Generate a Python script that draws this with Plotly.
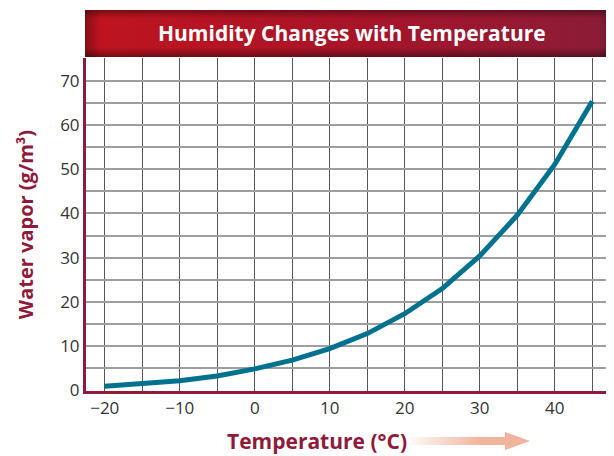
import base64
import plotly.graph_objects as go

# Data
temperature_c = [-20, -15, -10, -5, 0, 5, 10, 15, 20, 25, 30, 35, 40, 45]
water_vapor = [0.9, 1.4, 2.1, 3.2, 4.8, 6.8, 9.4, 12.8, 17.3, 23.0, 30.4, 39.6, 51.1, 65.4]

x_tickvals = [-20, -15, -10, -5, 0, 5, 10, 15, 20, 25, 30, 35, 40, 45]
x_ticktext = ["\u221220", "", "\u221210", "", "0", "", "10", "", "20", "", "30", "", "40", ""]
y_tickvals = [0, 5, 10, 15, 20, 25, 30, 35, 40, 45, 50, 55, 60, 65, 70, 75]
y_ticktext = ["0", "", "10", "", "20", "", "30", "", "40", "", "50", "", "60", "", "70", ""]

title_text = "Humidity Changes with Temperature"
x_title = "Temperature (\u00b0C)"
y_title = "Water vapor (g/m\u00b3)"

DARK_RED = "#8E1B3C"

title_svg = """<svg xmlns='http://www.w3.org/2000/svg' width='530' height='48' viewBox='0 0 530 48'>
<defs>
<linearGradient id='g' x1='0' y1='0' x2='1' y2='0'>
<stop offset='0' stop-color='#C0141F'/>
<stop offset='0.5' stop-color='#A81428'/>
<stop offset='1' stop-color='#8A1C38'/>
</linearGradient>
<linearGradient id='v' x1='0' y1='0' x2='0' y2='1'>
<stop offset='0' stop-color='#000' stop-opacity='0.35'/>
<stop offset='0.18' stop-color='#000' stop-opacity='0'/>
<stop offset='0.8' stop-color='#000' stop-opacity='0'/>
<stop offset='1' stop-color='#000' stop-opacity='0.4'/>
</linearGradient>
<linearGradient id='h' x1='0' y1='0' x2='1' y2='0'>
<stop offset='0' stop-color='#000' stop-opacity='0.3'/>
<stop offset='0.03' stop-color='#000' stop-opacity='0'/>
<stop offset='0.97' stop-color='#000' stop-opacity='0'/>
<stop offset='1' stop-color='#000' stop-opacity='0.3'/>
</linearGradient>
</defs>
<rect width='530' height='48' fill='url(#g)'/>
<rect width='530' height='48' fill='url(#v)'/>
<rect width='530' height='48' fill='url(#h)'/>
</svg>"""

arrow_svg = """<svg xmlns='http://www.w3.org/2000/svg' width='125' height='18' viewBox='0 0 125 18'>
<defs>
<linearGradient id='a' x1='0' y1='0' x2='1' y2='0'>
<stop offset='0' stop-color='#F0B49C' stop-opacity='0'/>
<stop offset='0.6' stop-color='#F0B49C' stop-opacity='1'/>
<stop offset='1' stop-color='#F0B49C' stop-opacity='1'/>
</linearGradient>
</defs>
<polygon points='0,5 100,5 100,0 125,9 100,18 100,13 0,13' fill='url(#a)'/>
</svg>"""


def uri(svg):
    return "data:image/svg+xml;base64," + base64.b64encode(svg.encode()).decode()


fig = go.Figure()
fig.add_trace(go.Scatter(
    x=temperature_c, y=water_vapor, mode="lines",
    line=dict(color="#00718F", width=5),
    hoverinfo="skip", showlegend=False,
))

# page body has an 8px margin; figure is placed at (8, 8)
W, HT = 606, 448
L, T, B = 78, 50, 65
H = float(HT - T - B)   # 333
PW = float(W - L)       # 528

fig.update_layout(
    width=W, height=HT,
    margin=dict(l=L, r=0, t=T, b=B),
    paper_bgcolor="white", plot_bgcolor="white",
    font=dict(family="Open Sans", color="#333333", size=16),
    xaxis=dict(
        range=[-22.5, 47.9], tickvals=x_tickvals, ticktext=x_ticktext,
        showgrid=True, gridcolor="#555555", gridwidth=1.3,
        zeroline=False, showline=True, linecolor=DARK_RED, linewidth=3,
        ticks="", tickfont=dict(size=17, color="#333333"),
        fixedrange=True,
    ),
    yaxis=dict(
        range=[-0.2, 75.2], tickvals=y_tickvals, ticktext=y_ticktext,
        showgrid=True, gridcolor="#9E9E9E", gridwidth=1.5,
        zeroline=False, showline=True, linecolor=DARK_RED, linewidth=3,
        ticks="", tickfont=dict(size=17, color="#333333"),
        title=dict(text=f"<b>{y_title}</b>", font=dict(size=20, color=DARK_RED), standoff=22),
        fixedrange=True,
    ),
    images=[
        dict(source=uri(title_svg), xref="paper", yref="paper",
             x=-0.002, y=1 + 48 / H, sizex=1.002, sizey=47 / H,
             xanchor="left", yanchor="top", sizing="stretch", layer="above"),
        dict(source=uri(arrow_svg), xref="paper", yref="paper",
             x=(405 - 86) / PW, y=-(432 - 391) / H, sizex=125 / PW, sizey=18 / H,
             xanchor="left", yanchor="top", sizing="stretch", layer="above"),
    ],
    annotations=[
        dict(text=f"<b>{title_text}</b>", xref="paper", yref="paper",
             x=(352 - 86) / PW, y=1 + (58 - 33) / H,
             xanchor="center", yanchor="middle", showarrow=False,
             font=dict(size=21, color="white", family="Open Sans")),
        dict(text=f"<b>{x_title}</b>", xref="paper", yref="paper",
             x=(317 - 86) / PW, y=-(441 - 391) / H,
             xanchor="center", yanchor="middle", showarrow=False,
             font=dict(size=21, color=DARK_RED, family="Open Sans")),
    ],
)

fig.write_html("out.html")
